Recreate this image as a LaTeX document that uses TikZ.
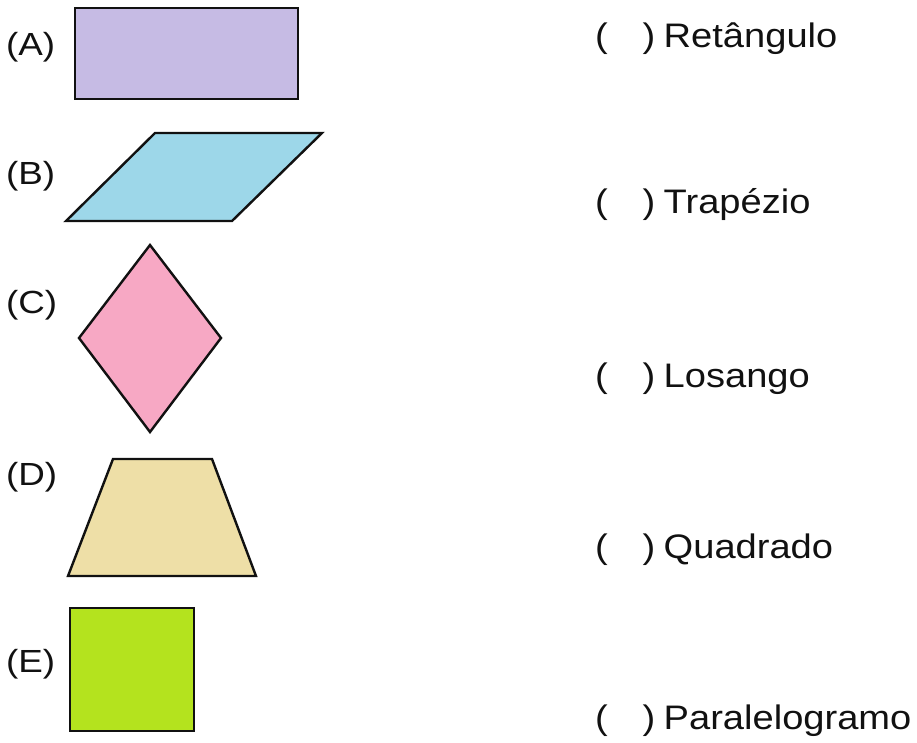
\documentclass[tikz,border=0pt]{standalone}
\usepackage{fontspec}
\setmainfont{Liberation Sans}
\definecolor{colA}{HTML}{C6BBE4}
\definecolor{colB}{HTML}{9DD7E9}
\definecolor{colC}{HTML}{F7A8C4}
\definecolor{colD}{HTML}{EEDFA7}
\definecolor{colE}{HTML}{B4E31E}
\definecolor{ink}{HTML}{111111}
\tikzset{
  shapeline/.style={draw=ink, line width=2.4pt, line join=miter},
  lbl/.style={anchor=base west, inner sep=0pt, outer sep=0pt, text=ink, font=\fontsize{32}{37}\selectfont},
  opt/.style={anchor=base west, inner sep=0pt, outer sep=0pt, text=ink, font=\fontsize{34}{39}\selectfont},
}
\newcommand{\wide}[1]{\scalebox{1.15}[1]{#1}}
\newcommand{\wideb}[1]{\scalebox{1.12}[1]{#1}}
\begin{document}
\begin{tikzpicture}[x=1pt,y=-1pt]
\useasboundingbox[fill=white] (0,0) rectangle (917,742);
% shapes
\draw[shapeline, fill=colA] (75,8) rectangle (298,99);
\draw[shapeline, fill=colB] (155,133) -- (322,133) -- (232,221) -- (66,221) -- cycle;
\draw[shapeline, fill=colC] (150,245) -- (221,338) -- (150,432) -- (79,338) -- cycle;
\draw[shapeline, fill=colD] (113,459) -- (212,459) -- (256,576) -- (68,576) -- cycle;
\draw[shapeline, fill=colE] (70,608) rectangle (194,731);
% labels
\node[lbl] (la) at (6,55) {\wide{(A)}};
\node[lbl] (lb) at (6,184) {\wide{(B)}};
\node[lbl] (lc) at (6,313) {\wide{(C)}};
\node[lbl] (ld) at (6,485) {\wide{(D)}};
\node[lbl] (le) at (6,672) {\wide{(E)}};
% options
\node[opt] (o1) at (595,47) {\wideb{(\hspace{0.92em})\hspace{0.22em}Retângulo}};
\node[opt] (o2) at (595,213) {\wideb{(\hspace{0.92em})\hspace{0.22em}Trapézio}};
\node[opt] (o3) at (595,387) {\wideb{(\hspace{0.92em})\hspace{0.22em}Losango}};
\node[opt] (o4) at (595,558) {\wideb{(\hspace{0.92em})\hspace{0.22em}Quadrado}};
\node[opt] (o5) at (595,729) {\wideb{(\hspace{0.92em})\hspace{0.22em}Paralelogramo}};
\end{tikzpicture}
\end{document}
